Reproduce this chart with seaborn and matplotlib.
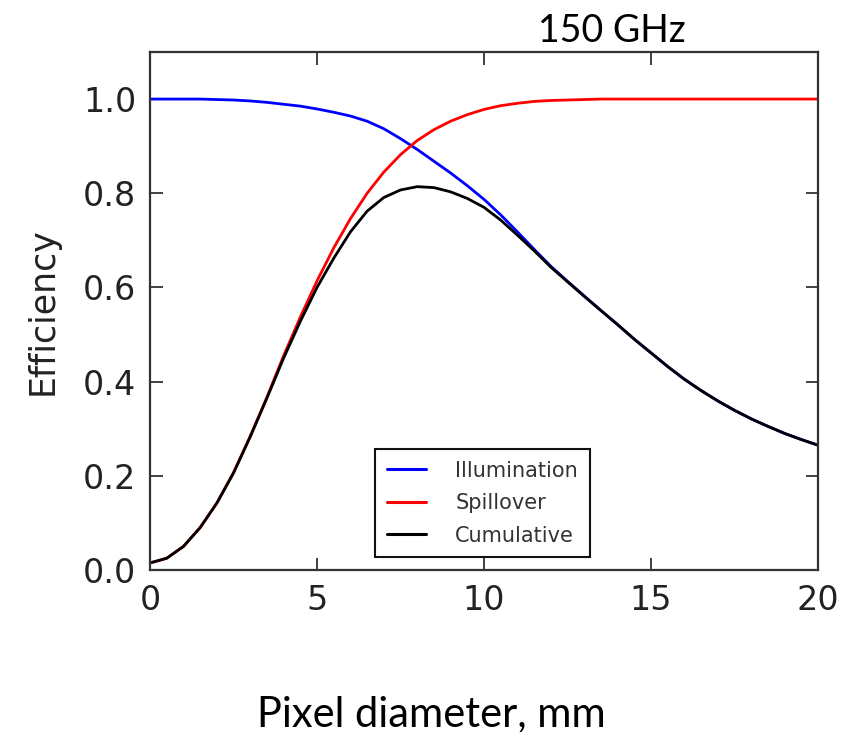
import matplotlib
matplotlib.use("Agg")
import matplotlib.pyplot as plt
import seaborn as sns
import pandas as pd

# pixel diameter (mm), read every 0.5 mm
diameter = [0.0, 0.5, 1.0, 1.5, 2.0, 2.5, 3.0, 3.5, 4.0, 4.5,
            5.0, 5.5, 6.0, 6.5, 7.0, 7.5, 8.0, 8.5, 9.0, 9.5,
            10.0, 10.5, 11.0, 11.5, 12.0, 12.5, 13.0, 13.5, 14.0, 14.5,
            15.0, 15.5, 16.0, 16.5, 17.0, 17.5, 18.0, 18.5, 19.0, 19.5, 20.0]

illumination = [1.000, 1.000, 1.000, 1.000, 0.999, 0.998, 0.996, 0.993, 0.989, 0.985,
                0.979, 0.972, 0.964, 0.953, 0.937, 0.916, 0.893, 0.868, 0.843, 0.816,
                0.787, 0.754, 0.718, 0.681, 0.645, 0.613, 0.582, 0.551, 0.521, 0.490,
                0.461, 0.432, 0.405, 0.381, 0.359, 0.339, 0.321, 0.305, 0.290, 0.277, 0.265]

spillover = [0.015, 0.025, 0.050, 0.090, 0.142, 0.207, 0.284, 0.367, 0.455, 0.537,
             0.614, 0.684, 0.746, 0.800, 0.845, 0.882, 0.912, 0.935, 0.953, 0.967,
             0.978, 0.986, 0.991, 0.995, 0.997, 0.998, 0.999, 1.000, 1.000, 1.000,
             1.000, 1.000, 1.000, 1.000, 1.000, 1.000, 1.000, 1.000, 1.000, 1.000, 1.000]

cumulative = [0.015, 0.025, 0.050, 0.090, 0.142, 0.206, 0.283, 0.365, 0.450, 0.528,
              0.600, 0.662, 0.718, 0.762, 0.791, 0.807, 0.814, 0.812, 0.803, 0.789,
              0.770, 0.743, 0.711, 0.678, 0.643, 0.612, 0.581, 0.551, 0.521, 0.490,
              0.461, 0.432, 0.405, 0.381, 0.359, 0.339, 0.321, 0.305, 0.290, 0.277, 0.265]

series_names = ["Illumination", "Spillover", "Cumulative"]
series_colors = ["#0000ff", "#ff0000", "#000000"]

df = pd.concat([
    pd.DataFrame({"diameter": diameter, "efficiency": vals, "series": name})
    for name, vals in zip(series_names, [illumination, spillover, cumulative])
])

sns.set_style("ticks")
plt.rcParams["font.family"] = ["DejaVu Sans"]

fig = plt.figure(figsize=(8.5, 7.32), dpi=100)
ax = fig.add_axes([0.1765, 0.2213, 0.7859, 0.7077])

sns.lineplot(data=df, x="diameter", y="efficiency", hue="series",
             hue_order=series_names, palette=series_colors,
             linewidth=2.0, ax=ax)

ax.set_xlim(0, 20)
ax.set_ylim(0, 1.1)
ax.set_xticks([0, 5, 10, 15, 20])
ax.set_yticks([0.0, 0.2, 0.4, 0.6, 0.8, 1.0])
ax.set_yticklabels(["0.0", "0.2", "0.4", "0.6", "0.8", "1.0"])
ax.set_xlabel("")
ax.set_ylabel("Efficiency", fontsize=25, color="#222222", labelpad=17)

for side in ["top", "right", "bottom", "left"]:
    ax.spines[side].set_visible(True)
    ax.spines[side].set_color("#333333")
    ax.spines[side].set_linewidth(1.6)
ax.tick_params(direction="in", length=9, width=1.3, color="#333333",
               top=True, right=True, labelsize=24, labelcolor="#222222", pad=10)

leg = ax.legend(loc="lower left", bbox_to_anchor=(0.337, 0.025), borderaxespad=0,
                fancybox=False, framealpha=1, edgecolor="#111111",
                fontsize=15, handlelength=1.9, labelspacing=0.6,
                borderpad=0.55, handletextpad=1.4, title=None)
leg.get_frame().set_linewidth(1.5)
for t in leg.get_texts():
    t.set_color("#333333")
for line in leg.get_lines():
    line.set_linewidth(2.2)

fig.text(0.72, 0.958, "150 GHz", fontsize=27, family=["Lato", "DejaVu Sans"],
         ha="center", va="center", color="#000000")
fig.text(0.508, 0.024, "Pixel diameter, mm", fontsize=30, family=["Lato", "DejaVu Sans"],
         ha="center", va="center", color="#000000")

fig.savefig("out.png", dpi=100)
